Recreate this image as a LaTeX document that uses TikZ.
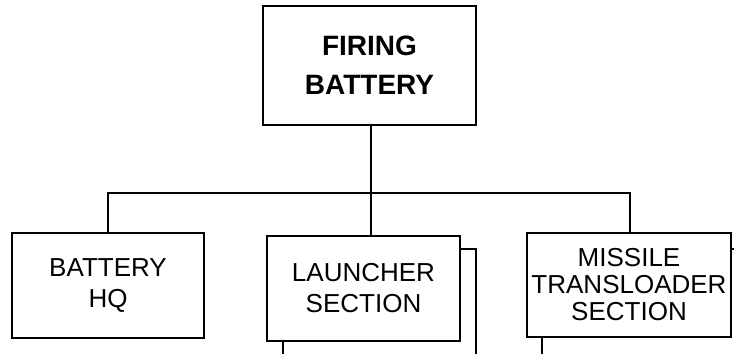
\documentclass[tikz,border=0pt]{standalone}
\usepackage{fontspec}
\setmainfont{Liberation Sans}
\begin{document}
\begin{tikzpicture}[x=1pt,y=-1pt,line width=1.2pt,
  box/.style={draw,rectangle,align=center,inner sep=0pt},
  line/.style={draw,line width=1.2pt}]
\useasboundingbox (0,0) rectangle (734,354);
\node[box,minimum width=213pt,minimum height=119pt,
  font=\fontsize{28}{39}\selectfont\bfseries] (top) at (369.5,65.5) {FIRING\\BATTERY};
\node[box,minimum width=192pt,minimum height=105pt,
  font=\fontsize{26}{31}\selectfont] (hq) at (108,285.5) {BATTERY\\HQ};
\node[box,minimum width=193pt,minimum height=105pt,
  font=\fontsize{26}{31}\selectfont] (ls) at (363.5,288.5) {LAUNCHER\\SECTION};
\node[box,minimum width=204pt,minimum height=104pt,
  font=\fontsize{26}{27}\selectfont] (ms) at (629,285) {MISSILE\\TRANSLOADER\\SECTION};
\coordinate (bar) at (371,193);
\coordinate (barL) at (108,193);
\coordinate (barR) at (630,193);
\draw[line] (top.south -| bar) -- (bar);
\draw[line] (hq.north -| barL) -- (barL) -- (barR) -- (ms.north -| barR);
\draw[line] (bar) -- (ls.north -| bar);
% partially visible shapes beyond
\coordinate (s1) at (476,249);
\coordinate (s2) at (476,354);
\coordinate (l1) at (283,354);
\coordinate (m1) at (542,354);
\coordinate (m2) at (734,249);
\draw[line] (ls.east |- s1) -- (s1) -- (s2);
\draw[line] (ls.south -| l1) -- (l1);
\draw[line] (ms.south -| m1) -- (m1);
\draw[line] (ms.east |- m2) -- (m2);
\end{tikzpicture}
\end{document}
